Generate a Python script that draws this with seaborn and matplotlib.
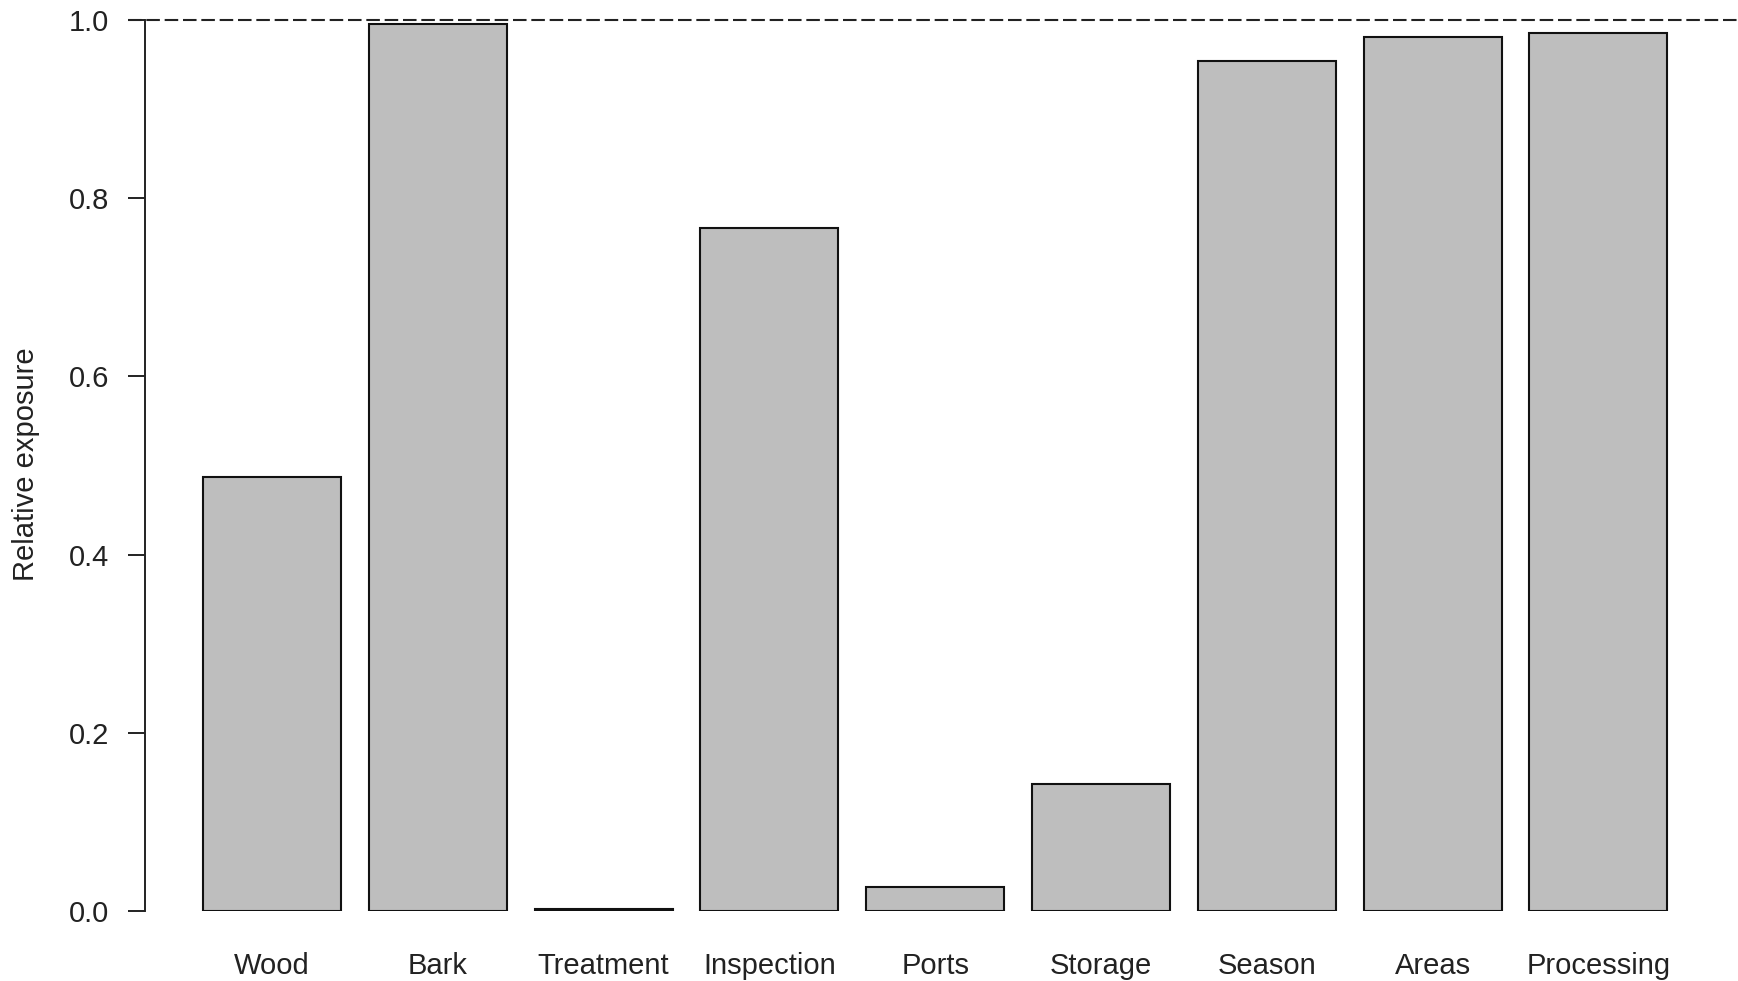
import matplotlib
matplotlib.use('Agg')
import matplotlib.pyplot as plt
import seaborn as sns

# Valores
categories = ['Wood', 'Bark', 'Treatment', 'Inspection', 'Ports',
              'Storage', 'Season', 'Areas', 'Processing']
values = [0.487, 0.995, 0.002, 0.766, 0.027, 0.143, 0.954, 0.981, 0.985]
y_ticks = [0.0, 0.2, 0.4, 0.6, 0.8, 1.0]
y_tick_labels = ['0.0', '0.2', '0.4', '0.6', '0.8', '1.0']

sns.set_style('white')
plt.rcParams['font.family'] = ['Liberation Sans', 'DejaVu Sans']

W, H = 1738, 981
fig = plt.figure(figsize=(W / 100, H / 100), dpi=100)
ax = fig.add_axes([145 / W, 1 - 911 / H, (W - 145) / W, (911 - 20) / H])

sns.barplot(x=categories, y=values, color='#BEBEBE', saturation=1,
            edgecolor='#111111', linewidth=1.5, width=1 / 1.2, ax=ax)

ax.set_xlim(-0.766, 8.842)
ax.set_ylim(0, 1)

# Línea de referencia en 1
ax.plot([-0.869, 8.842], [1, 1], color='#222222', lw=1.5,
        ls=(0, (6.5, 2.3)), clip_on=False, zorder=5)

for s in ['top', 'right', 'bottom']:
    ax.spines[s].set_visible(False)
ax.spines['left'].set_bounds(0, 1)
ax.spines['left'].set_color('#222222')
ax.spines['left'].set_linewidth(1.4)

ax.set_yticks(y_ticks)
ax.set_yticklabels(y_tick_labels)
ax.tick_params(axis='y', length=12, width=1.4, color='#222222',
               pad=14, labelsize=21, labelcolor='#222222', left=True)
ax.tick_params(axis='x', length=0, pad=29.5, labelsize=21, labelcolor='#222222')
ax.set_xlabel('')
ax.set_ylabel('')

fig.text(26 / W, 1 - 464 / H, 'Relative exposure', rotation=90,
         ha='center', va='center', fontsize=21, color='#222222')

fig.savefig('out.png', dpi=100)
